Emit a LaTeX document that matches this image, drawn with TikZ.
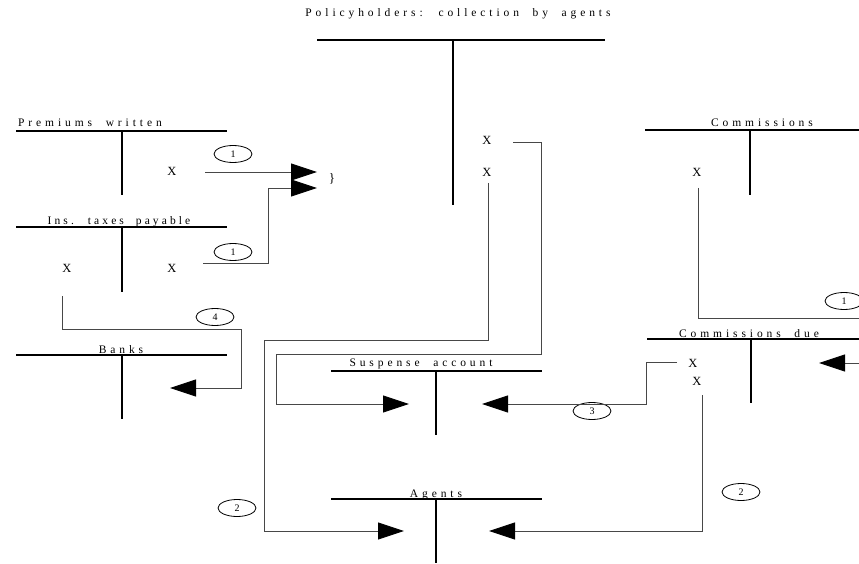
\documentclass[tikz,border=0pt]{standalone}
\usepackage{fontspec}
\setmainfont{Liberation Serif}
\newfontfamily\spacedfont[LetterSpace=34,WordSpace=2]{Liberation Serif}
\newfontfamily\tightfont[LetterSpace=27,WordSpace=2]{Liberation Serif}
\usetikzlibrary{arrows.meta,shapes.geometric}

% T-account: name, left x, right x, ledger y, stem x, stem bottom y
\newcommand\tacct[6]{%
  \coordinate (#1-l) at (#2,#4);
  \coordinate (#1-r) at (#3,#4);
  \coordinate (#1-t) at (#5,#4);
  \coordinate (#1-b) at (#5,#6);
  \draw[ledger] (#1-l) -- (#1-r);
  \draw[stem] (#1-t) -- (#1-b);
}

\begin{document}
\begin{tikzpicture}[x=1pt,y=-1pt,
  ledger/.style={line width=1.3pt},
  stem/.style={line width=2.6pt},
  acct/.style={anchor=base,inner sep=0pt,font=\spacedfont\fontsize{11.5}{13}\selectfont},
  entry/.style={anchor=base,inner sep=0pt,font=\fontsize{12.5}{14}\selectfont},
  tag/.style={draw,ellipse,minimum width=38pt,minimum height=17pt,inner sep=0pt,line width=0.8pt,font=\fontsize{10}{11}\selectfont},
  flow/.style={line width=0.9pt,draw=black!72},
  arr/.style={flow,-{Triangle[length=26pt,width=17pt,color=black]}},
]
\useasboundingbox (0,0) rectangle (859,564);

% ---- accounts ----
\tacct{pol}{317}{605}{40}{453}{205}
\node[acct] (pol-name) at (458,17) {Policyholders: collection by agents};

\tacct{pw}{16}{227}{131}{122}{195}
\node[acct] (pw-name) at (90,127) {Premiums written};

\tacct{it}{16}{227}{227}{122}{292}
\node[acct,font=\tightfont\fontsize{11.5}{13}\selectfont] (it-name) at (119,225) {Ins. taxes payable};

\tacct{bk}{16}{227}{355}{122}{419}
\node[acct] (bk-name) at (121,353) {Banks};

\tacct{cm}{645}{859}{130}{750}{195}
\node[acct] (cm-name) at (762,127) {Commissions};

\tacct{cd}{647}{859}{339}{751}{403}
\node[acct] (cd-name) at (749,337) {Commissions due};

\tacct{sus}{331}{542}{371}{436}{435}
\node[acct] (sus-name) at (421,366.5) {Suspense account};

\tacct{ag}{331}{542}{499}{436}{563}
\node[acct] (ag-name) at (436,497) {Agents};

% ---- entries ----
\node[entry] (x-pw)  at (172,176) {X};
\node[entry] (x-itl) at (67,272)  {X};
\node[entry] (x-itr) at (172,272) {X};
\node[entry] (x-ph1) at (487,145) {X};
\node[entry] (x-ph2) at (487,177) {X};
\node[entry] (x-cm)  at (697,177) {X};
\node[entry] (x-cd1) at (693,367) {X};
\node[entry] (x-cd2) at (697,385) {X};
\node[inner sep=0pt,font=\fontsize{13}{14}\selectfont] (brace) at (332,179) {\}};

% ---- step numbers ----
\node[tag] (t1a) at (233,154) {1};
\node[tag] (t1b) at (233,252) {1};
\node[tag] (t4)  at (215,317) {4};
\node[tag] (t1c) at (844,301) {1};
\node[tag] (t3)  at (592,411) {3};
\node[tag] (t2a) at (237,508) {2};
\node[tag] (t2b) at (741,492) {2};

% ---- connector ends ----
\coordinate (o-pw)  at (205,172);
\coordinate (o-itr) at (203,263);
\coordinate (o-itl) at (62,296);
\coordinate (o-ph1) at (513,142);
\coordinate (o-ph2) at (488,183);
\coordinate (o-cm)  at (698,188);
\coordinate (o-cd1) at (677,362);
\coordinate (o-cd2) at (702,395);
\coordinate (o-edge) at (859,363);
\coordinate (e-cm)  at (859,318);

\coordinate (in-brace1) at (317,172);
\coordinate (in-brace2) at (317,188);
\coordinate (in-bk)   at (170,388);
\coordinate (in-susl) at (409,404);
\coordinate (in-susr) at (482,404);
\coordinate (in-agl)  at (404,531);
\coordinate (in-agr)  at (489,531);
\coordinate (in-cd)   at (819,363);

% ---- flows ----
\draw[arr] (o-pw) -- (in-brace1);
\draw[arr] (o-itr) -- ++(65,0) |- (in-brace2);
\draw[arr] (o-itl) |- (241,329) |- (in-bk);
\draw[arr] (o-ph1) -| (541,354) -| (276,404) -- (in-susl);
\draw[arr] (o-ph2) |- (264,340) |- (in-agl);
\draw[flow] (o-cm) |- (e-cm);
\draw[arr] (o-edge) -- (in-cd);
\draw[arr] (o-cd1) -| (646,404) -- (in-susr);
\draw[arr] (o-cd2) |- (in-agr);
\end{tikzpicture}
\end{document}
